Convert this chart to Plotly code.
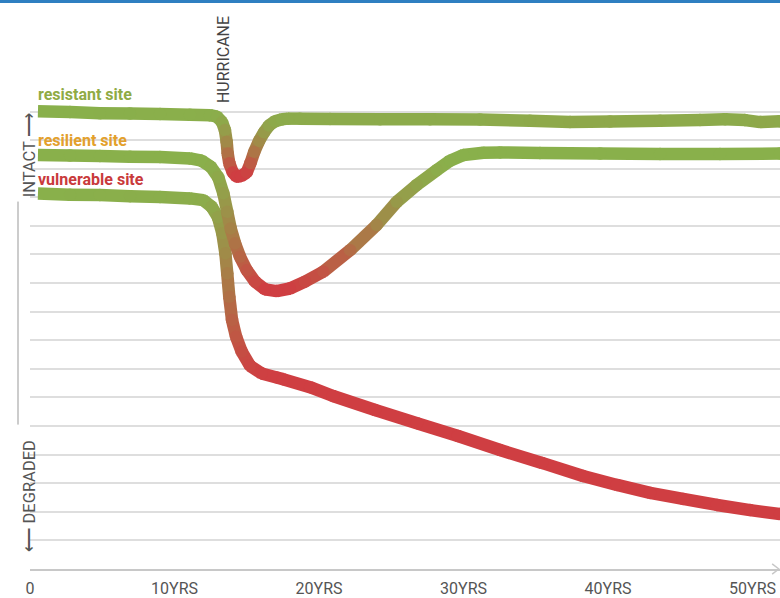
import plotly.graph_objects as go

# ---------------- data (years after start, condition index in gridline units) ----------------
resistant_years = [0.55, 2.77, 4.84, 6.92, 9.00, 11.07, 12.46, 12.94, 13.29, 13.49, 13.61, 13.68, 13.79,
                   14.03, 14.30, 14.60, 15.00, 15.26, 15.52, 15.85, 16.19, 16.54, 16.96, 17.44, 17.85,
                   18.69, 20.76, 24.22, 27.68, 31.14, 34.60, 37.37, 40.14, 43.60, 46.37, 48.10, 49.48,
                   50.52, 51.90]
resistant_values = [16.01, 15.98, 15.94, 15.93, 15.91, 15.89, 15.87, 15.82, 15.63, 15.35, 14.94, 14.53, 14.19,
                    13.87, 13.72, 13.74, 13.87, 14.20, 14.59, 14.97, 15.27, 15.51, 15.66, 15.73, 15.75,
                    15.75, 15.74, 15.73, 15.73, 15.72, 15.68, 15.63, 15.65, 15.68, 15.70, 15.73, 15.70,
                    15.63, 15.66]

resilient_years = [0.55, 2.77, 4.84, 6.92, 9.00, 11.07, 11.88, 12.51, 13.03, 13.38, 13.65, 13.89, 14.19,
                   14.53, 15.00, 15.57, 16.26, 17.07, 17.99, 19.03, 20.30, 22.15, 23.99, 25.38, 26.76,
                   28.15, 29.07, 29.99, 31.37, 32.53, 35.29, 39.45, 43.60, 47.75, 51.90]
resilient_values = [14.48, 14.46, 14.44, 14.42, 14.41, 14.36, 14.28, 14.07, 13.70, 13.14, 12.49, 11.91, 11.39,
                    10.92, 10.45, 10.05, 9.78, 9.72, 9.81, 10.05, 10.40, 11.15, 12.03, 12.84, 13.43,
                    13.95, 14.28, 14.48, 14.56, 14.57, 14.55, 14.53, 14.51, 14.51, 14.53]

vulnerable_years = [0.55, 2.77, 4.84, 6.92, 9.00, 11.07, 11.99, 12.57, 13.01, 13.31, 13.52, 13.65, 13.79,
                    13.98, 14.26, 14.65, 15.22, 16.03, 17.07, 17.51, 19.38, 20.97, 23.88, 26.78, 29.62,
                    32.53, 35.43, 38.27, 40.62, 42.91, 45.19, 47.54, 49.83, 51.90]
vulnerable_values = [13.13, 13.09, 13.08, 13.04, 13.01, 12.96, 12.90, 12.67, 12.30, 11.74, 11.04, 10.34, 9.52,
                     8.71, 8.12, 7.60, 7.11, 6.84, 6.70, 6.64, 6.36, 6.05, 5.56, 5.10, 4.65,
                     4.16, 3.71, 3.25, 2.94, 2.66, 2.45, 2.24, 2.06, 1.92]

series_names = ["resistant site", "resilient site", "vulnerable site"]
hurricane_year = 13.36

tick_years = [0, 10, 20, 30, 40, 50]
tick_labels = ["0", "10YRS", "20YRS", "30YRS", "40YRS", "50YRS"]
grid_levels = list(range(1, 17))

# ---------------- styling ----------------
GREEN = (137, 176, 75)
RED = (207, 62, 66)
LINE_W = 12.5


def mix(f):
    f = max(0.0, min(1.0, f))
    r, g, b = (round(GREEN[i] + (RED[i] - GREEN[i]) * f) for i in range(3))
    return f"rgb({r},{g},{b})"


def add_gradient_line(fig, xs, ys, full_drop, gamma):
    base = ys[0]

    def frac(v):
        d = max(0.0, base - v) / full_drop
        return min(1.0, d) ** gamma

    for i in range(len(xs) - 1):
        f = frac((ys[i] + ys[i + 1]) / 2)
        fig.add_trace(go.Scatter(x=[xs[i], xs[i + 1]], y=[ys[i], ys[i + 1]], mode="lines",
                                 line=dict(color=mix(f), width=LINE_W),
                                 hoverinfo="skip", showlegend=False))
    fig.add_trace(go.Scatter(x=xs[1:], y=ys[1:], mode="markers",
                             marker=dict(size=LINE_W, color=[mix(frac(v)) for v in ys[1:]],
                                         line=dict(width=0)),
                             hoverinfo="skip", showlegend=False))


fig = go.Figure()
add_gradient_line(fig, vulnerable_years, vulnerable_values, 6.4, 1.0)
add_gradient_line(fig, resilient_years, resilient_values, 4.7, 1.5)
add_gradient_line(fig, resistant_years, resistant_values, 2.2, 1.5)

LABEL_FONT = "Roboto, sans-serif"
label_colors = ["#8fab45", "#e3a02c", "#c93a3b"]
label_y = [16.6, 15.0, 13.62]
for name, col, yy in zip(series_names, label_colors, label_y):
    fig.add_annotation(x=0.4, y=yy, xref="x", yref="y", text=f"<b>{name}</b>", showarrow=False,
                       xanchor="left", yanchor="middle",
                       font=dict(family=LABEL_FONT, size=16, color=col))

fig.add_annotation(x=hurricane_year, y=17.8, xref="x", yref="y", text="HURRICANE", showarrow=False,
                   textangle=-90, font=dict(family="Roboto", size=16, color="#444444"))

fig.add_annotation(x=-0.016, y=14.45, xref="paper", yref="y", text="INTACT \u27f6", showarrow=False,
                   textangle=-90, font=dict(family="Roboto", size=16.5, color="#555555"))
fig.add_annotation(x=-0.016, y=2.55, xref="paper", yref="y", text="\u27f5 DEGRADED", showarrow=False,
                   textangle=-90, font=dict(family="Roboto", size=16.5, color="#555555"))
fig.add_shape(type="line", xref="paper", yref="y", x0=-0.016, x1=-0.016, y0=5.05, y1=12.85,
              line=dict(color="#999999", width=1))

# axis arrow head
fig.add_shape(type="path", xref="paper", yref="paper",
              path="M 0.9895 0.0095 L 0.9985 0 L 0.9895 -0.0095",
              line=dict(color="#c8c8c8", width=1.5))
# top blue rule
fig.add_shape(type="line", xref="paper", yref="paper", x0=-0.05, x1=1.0, y0=1.0337, y1=1.0337,
              line=dict(color="#2f7fc1", width=3))

fig.update_xaxes(range=[0, 51.9], tickmode="array", tickvals=tick_years, ticktext=tick_labels,
                 showgrid=False, zeroline=False, showline=True, linecolor="#c8c8c8", linewidth=2,
                 ticks="", ticklabelstandoff=4, automargin=False,
                 tickfont=dict(family="Roboto", size=16, color="#555555"))
fig.update_yaxes(range=[0, 19.2], tickmode="array", tickvals=grid_levels, showticklabels=False,
                 showgrid=True, gridcolor="#dedede", gridwidth=1.5, zeroline=False, showline=False,
                 automargin=False)

fig.update_layout(width=780, height=598, margin=dict(l=30, r=0, t=20, b=29),
                  paper_bgcolor="white", plot_bgcolor="white", showlegend=False)

fig.write_html("out.html", config={"displayModeBar": False},
               post_script="document.body.style.margin='0';")
